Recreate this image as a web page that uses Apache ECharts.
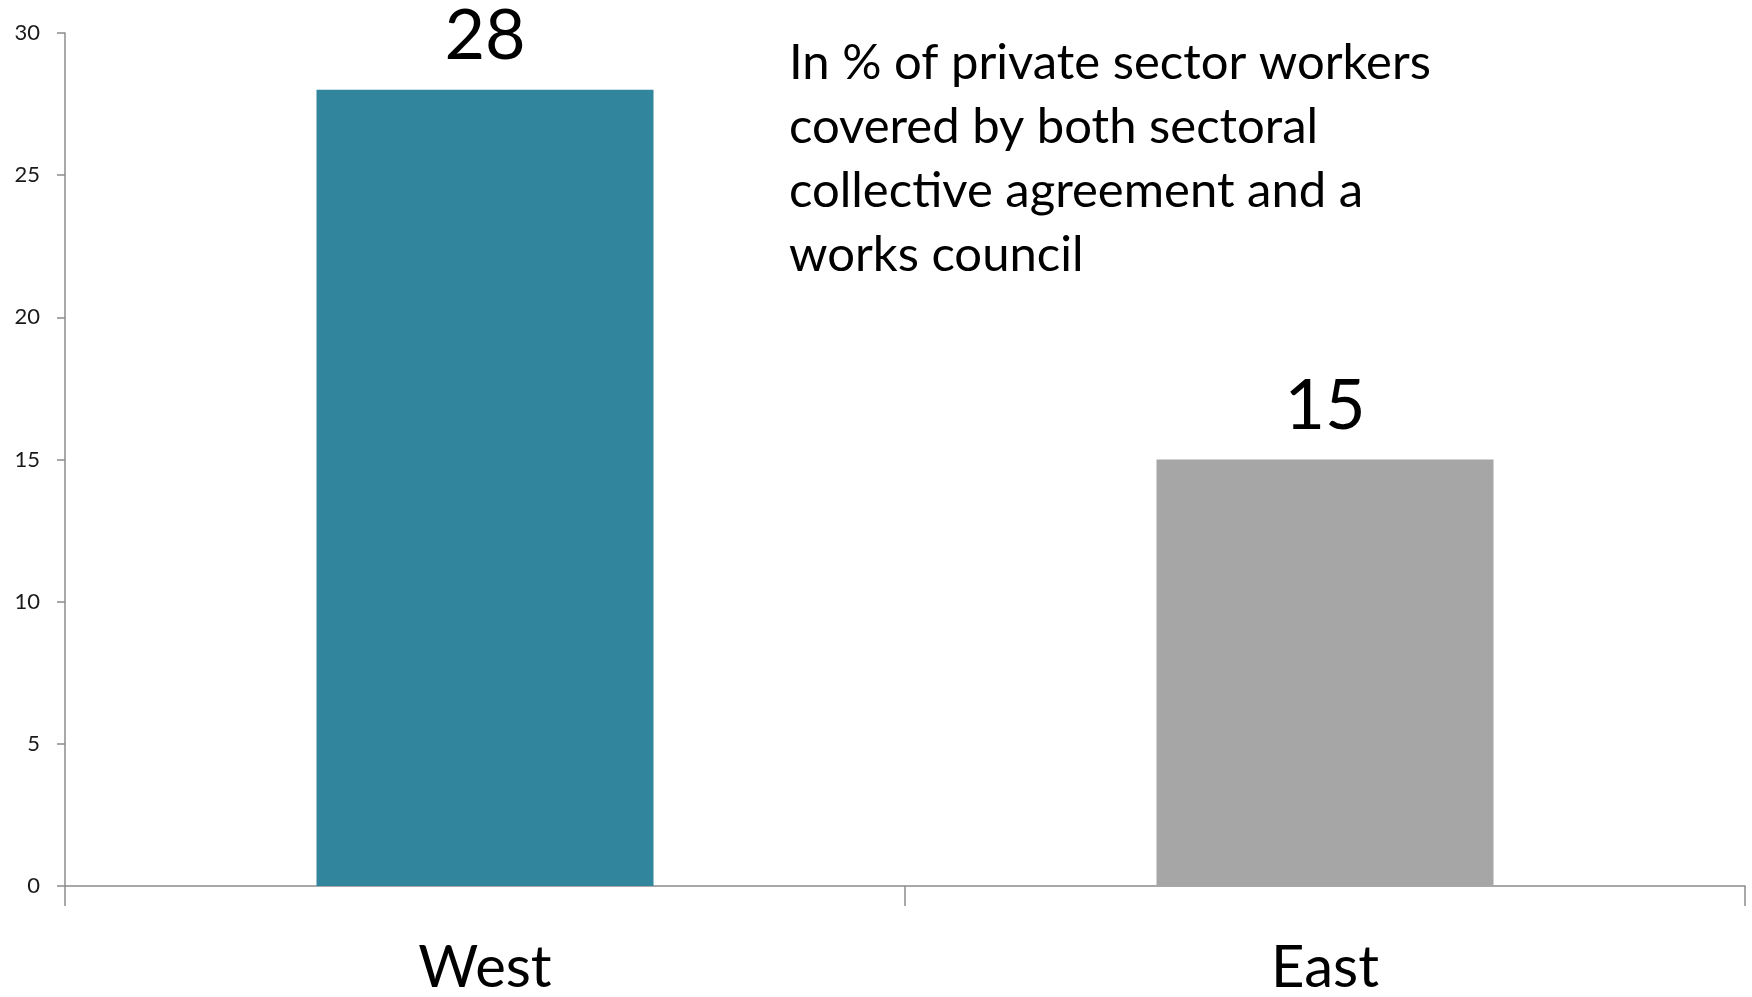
<!DOCTYPE html>
<html>
<head>
<meta charset="utf-8">
<script src="https://cdn.jsdelivr.net/npm/echarts@6/dist/echarts.min.js"></script>
<style>
  html, body { margin: 0; padding: 0; background: #ffffff; }
  #chart { width: 1752px; height: 997px; }
</style>
</head>
<body>
<div id="chart"></div>
<script>
// Regions and their shares of private sector workers
const categories = ['West', 'East'];
const values = [28, 15];
const barColors = ['#31859c', '#a6a6a6'];
const yTicks = [0, 5, 10, 15, 20, 25, 30];
// A zero-width non-joiner keeps Lato from fusing "ti" into a ligature
const noteLines = [
  'In % of private sector workers',
  'covered by both sectoral',
  'collec\u200Ctive agreement and a',
  'works council'
];

const chart = echarts.init(document.getElementById('chart'));
const axisGray = '#8c8c8c';

chart.setOption({
  animation: false,
  backgroundColor: '#ffffff',
  grid: { left: 65, right: 7, top: 33, bottom: 105, containLabel: false },
  xAxis: {
    type: 'category',
    data: categories,
    boundaryGap: true,
    axisLine: { lineStyle: { color: axisGray, width: 1.5 } },
    axisTick: { show: true, length: 20, lineStyle: { color: axisGray, width: 1.5 } },
    axisLabel: { fontFamily: 'Lato', fontSize: 58, color: '#000000', margin: 53 }
  },
  yAxis: {
    type: 'value',
    min: yTicks[0],
    max: yTicks[yTicks.length - 1],
    interval: yTicks[1] - yTicks[0],
    splitLine: { show: false },
    axisLine: { show: true, lineStyle: { color: axisGray, width: 1.5 } },
    axisTick: { show: true, length: 8, lineStyle: { color: axisGray, width: 1.5 } },
    axisLabel: { fontFamily: 'Lato', fontSize: 22, color: '#1a1a1a', margin: 25 }
  },
  graphic: [{
    type: 'text',
    left: 789,
    top: 31,
    style: {
      text: noteLines.join('\n'),
      fontFamily: 'Lato',
      fontSize: 49,
      lineHeight: 64,
      fill: '#000000'
    }
  }],
  series: [{
    type: 'bar',
    barWidth: 337,
    data: values.map((v, i) => ({ value: v, itemStyle: { color: barColors[i] } })),
    label: {
      show: true,
      position: 'top',
      distance: 18,
      fontFamily: 'Lato',
      fontSize: 70,
      color: '#000000'
    }
  }]
});
</script>
</body>
</html>
